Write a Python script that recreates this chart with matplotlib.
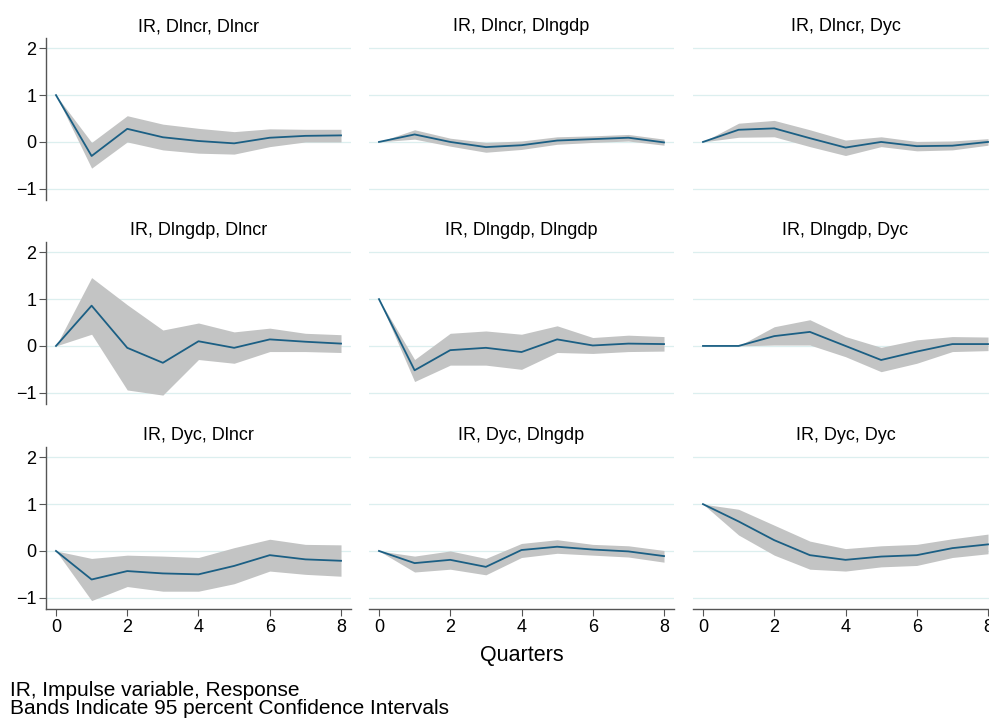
import matplotlib
matplotlib.use("Agg")
import matplotlib.pyplot as plt

plt.rcParams['font.family'] = ['Liberation Sans', 'DejaVu Sans']
plt.rcParams['axes.unicode_minus'] = True

# Horizon (quarters) and variable names
steps = [0, 1, 2, 3, 4, 5, 6, 7, 8]
variables = ["Dlncr", "Dlngdp", "Dyc"]

# Impulse responses: irf[impulse][response]
irf_dlncr_dlncr = [1.0, -0.30, 0.28, 0.10, 0.02, -0.03, 0.09, 0.13, 0.14]
lo_dlncr_dlncr = [1.0, -0.56, 0.00, -0.17, -0.24, -0.26, -0.10, 0.00, 0.00]
hi_dlncr_dlncr = [1.0, -0.01, 0.56, 0.38, 0.29, 0.22, 0.28, 0.27, 0.27]

irf_dlncr_dlngdp = [0.0, 0.16, 0.00, -0.11, -0.07, 0.03, 0.06, 0.09, -0.01]
lo_dlncr_dlngdp = [0.0, 0.06, -0.09, -0.22, -0.16, -0.05, -0.01, 0.02, -0.07]
hi_dlncr_dlngdp = [0.0, 0.26, 0.08, -0.01, 0.02, 0.11, 0.13, 0.16, 0.06]

irf_dlncr_dyc = [0.0, 0.26, 0.29, 0.08, -0.12, 0.00, -0.09, -0.08, 0.00]
lo_dlncr_dyc = [0.0, 0.10, 0.11, -0.10, -0.29, -0.10, -0.19, -0.17, -0.07]
hi_dlncr_dyc = [0.0, 0.40, 0.46, 0.26, 0.04, 0.11, 0.01, 0.02, 0.07]

irf_dlngdp_dlncr = [0.0, 0.86, -0.04, -0.36, 0.10, -0.04, 0.14, 0.09, 0.05]
lo_dlngdp_dlncr = [0.0, 0.25, -0.94, -1.05, -0.29, -0.37, -0.12, -0.12, -0.14]
hi_dlngdp_dlncr = [0.0, 1.46, 0.88, 0.34, 0.49, 0.30, 0.38, 0.27, 0.24]

irf_dlngdp_dlngdp = [1.0, -0.52, -0.09, -0.04, -0.13, 0.14, 0.01, 0.05, 0.04]
lo_dlngdp_dlngdp = [1.0, -0.76, -0.41, -0.41, -0.50, -0.14, -0.16, -0.12, -0.11]
hi_dlngdp_dlngdp = [1.0, -0.29, 0.27, 0.32, 0.25, 0.43, 0.18, 0.23, 0.20]

irf_dlngdp_dyc = [0.0, 0.0, 0.21, 0.30, 0.00, -0.30, -0.12, 0.04, 0.04]
lo_dlngdp_dyc = [0.0, 0.0, 0.02, 0.02, -0.23, -0.55, -0.37, -0.12, -0.10]
hi_dlngdp_dyc = [0.0, 0.0, 0.41, 0.56, 0.20, -0.03, 0.13, 0.20, 0.19]

irf_dyc_dlncr = [0.0, -0.61, -0.43, -0.48, -0.50, -0.32, -0.09, -0.18, -0.21]
lo_dyc_dlncr = [0.0, -1.06, -0.76, -0.86, -0.86, -0.70, -0.43, -0.50, -0.54]
hi_dyc_dlncr = [0.0, -0.16, -0.09, -0.11, -0.14, 0.07, 0.25, 0.14, 0.13]

irf_dyc_dlngdp = [0.0, -0.26, -0.19, -0.34, 0.02, 0.09, 0.03, -0.01, -0.11]
lo_dyc_dlngdp = [0.0, -0.45, -0.39, -0.51, -0.14, -0.05, -0.09, -0.13, -0.24]
hi_dyc_dlngdp = [0.0, -0.11, 0.00, -0.16, 0.16, 0.24, 0.14, 0.11, 0.01]

irf_dyc_dyc = [1.0, 0.63, 0.23, -0.09, -0.19, -0.12, -0.09, 0.06, 0.14]
lo_dyc_dyc = [1.0, 0.34, -0.09, -0.39, -0.43, -0.34, -0.31, -0.14, -0.06]
hi_dyc_dyc = [1.0, 0.89, 0.55, 0.21, 0.05, 0.11, 0.14, 0.26, 0.36]

panels = [
    [(irf_dlncr_dlncr, lo_dlncr_dlncr, hi_dlncr_dlncr),
     (irf_dlncr_dlngdp, lo_dlncr_dlngdp, hi_dlncr_dlngdp),
     (irf_dlncr_dyc, lo_dlncr_dyc, hi_dlncr_dyc)],
    [(irf_dlngdp_dlncr, lo_dlngdp_dlncr, hi_dlngdp_dlncr),
     (irf_dlngdp_dlngdp, lo_dlngdp_dlngdp, hi_dlngdp_dlngdp),
     (irf_dlngdp_dyc, lo_dlngdp_dyc, hi_dlngdp_dyc)],
    [(irf_dyc_dlncr, lo_dyc_dlncr, hi_dyc_dlncr),
     (irf_dyc_dlngdp, lo_dyc_dlngdp, hi_dyc_dlngdp),
     (irf_dyc_dyc, lo_dyc_dyc, hi_dyc_dyc)],
]

W, H = 989, 721
fig = plt.figure(figsize=(W / 100, H / 100), dpi=100)
fig.patch.set_facecolor("white")

# axes boxes in pixels
col_left = [46, 369, 693]
row_top = [38, 242, 447]
ax_w, ax_h = 305, 162

line_col = "#1b5f84"
band_col = "#c3c4c4"
grid_col = "#dcefef"
spine_col = "#555555"

for r in range(3):
    for c in range(3):
        left = col_left[c] / W
        bottom = 1 - (row_top[r] + ax_h) / H
        ax = fig.add_axes([left, bottom, ax_w / W, ax_h / H])
        irf, lo, hi = panels[r][c]
        ax.fill_between(steps, lo, hi, color=band_col, linewidth=0, zorder=2)
        ax.plot(steps, irf, color=line_col, lw=1.3, zorder=3)
        ax.set_xlim(-0.28, 8.28)
        ax.set_ylim(-1.24, 2.22)
        ax.set_yticks([-1, 0, 1, 2])
        ax.set_xticks([0, 2, 4, 6, 8])
        for y in [-1, 0, 1, 2]:
            ax.axhline(y, color=grid_col, lw=0.9, zorder=1)
        for s in ["top", "right"]:
            ax.spines[s].set_visible(False)
        ax.spines["left"].set_visible(c == 0)
        ax.spines["bottom"].set_visible(r == 2)
        ax.spines["left"].set_color(spine_col)
        ax.spines["bottom"].set_color(spine_col)
        ax.spines["left"].set_linewidth(1.0)
        ax.spines["bottom"].set_linewidth(1.0)
        ax.tick_params(axis="y", length=5 if c == 0 else 0, color=spine_col,
                       labelleft=(c == 0), labelsize=13, pad=2)
        ax.tick_params(axis="x", length=5 if r == 2 else 0, color=spine_col,
                       labelbottom=(r == 2), labelsize=13, pad=2)
        ax.set_title("IR, %s, %s" % (variables[r], variables[c]),
                     fontsize=13, pad=5)

fig.text(522 / W, 1 - 655 / H, "Quarters", ha="center", va="center", fontsize=15.5)
fig.text(10 / W, 1 - 690 / H, "IR, Impulse variable, Response",
         ha="left", va="center", fontsize=15)
fig.text(10 / W, 1 - 709 / H, "Bands Indicate 95 percent Confidence Intervals",
         ha="left", va="center", fontsize=15)

fig.savefig("out.png", dpi=100)
